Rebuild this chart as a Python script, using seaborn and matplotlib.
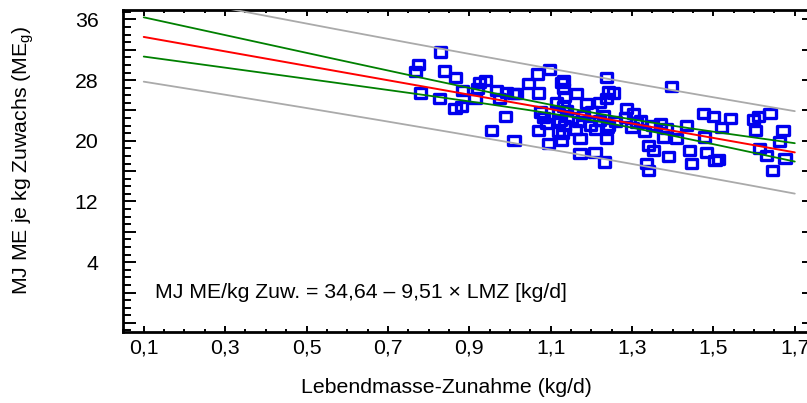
import numpy as np
import pandas as pd
import seaborn as sns
import matplotlib
matplotlib.use("Agg")
import matplotlib.pyplot as plt
from matplotlib.markers import MarkerStyle
from matplotlib.path import Path
from matplotlib.ticker import FixedLocator, MultipleLocator, FuncFormatter

# Daily live-weight gain (kg/d) per animal
lmz = [
    0.767, 0.776, 0.781, 0.826, 0.830, 0.839, 0.867, 0.865, 0.881, 0.884,
    0.914, 0.920, 0.926, 0.939, 0.955, 0.967, 0.975, 0.988, 0.992, 1.008,
    1.010, 1.016,
    1.045, 1.067, 1.097, 1.070, 1.070, 1.082, 1.094, 1.075, 1.090,
    1.127, 1.131, 1.131, 1.135, 1.115, 1.123, 1.119, 1.127, 1.131, 1.120,
    1.135, 1.130, 1.140,
    1.164, 1.168, 1.172, 1.172, 1.188, 1.197, 1.209, 1.238, 1.233, 1.238,
    1.242, 1.254, 1.180, 1.200, 1.210, 1.220, 1.230, 1.221, 1.238, 1.240,
    1.260, 1.150, 1.160,
    1.283, 1.287, 1.303, 1.320, 1.242, 1.300, 1.310, 1.340, 1.352, 1.389,
    1.336, 1.340, 1.397, 1.330, 1.350, 1.370, 1.377, 1.410, 1.385,
    1.434, 1.442, 1.446,
    1.475, 1.500, 1.520, 1.541, 1.479, 1.483, 1.512, 1.504,
    1.598, 1.610, 1.639, 1.604, 1.671, 1.614, 1.631, 1.663, 1.676, 1.645,
]
# Metabolisable energy per kg of gain (MJ ME/kg)
me_g = [
    29.1, 30.1, 26.3, 25.6, 31.7, 29.2, 28.4, 24.2, 24.5, 26.6,
    25.6, 26.9, 27.7, 28.0, 21.3, 26.6, 25.6, 23.2, 26.4, 26.2,
    20.0, 26.2,
    27.6, 28.8, 29.4, 26.3, 21.4, 23.1, 19.7, 23.8, 22.3,
    27.7, 28.0, 26.9, 25.8, 25.1, 22.7, 21.2, 20.0, 24.5, 23.6,
    22.0, 21.0, 24.0,
    26.2, 22.5, 20.3, 18.3, 24.9, 22.0, 18.5, 20.3, 17.2, 28.3,
    26.5, 26.3, 23.3, 23.8, 21.5, 22.7, 23.3, 25.1, 25.6, 21.8,
    22.5, 23.0, 21.5,
    23.1, 24.2, 23.6, 22.7, 22.0, 21.8, 22.4, 19.4, 18.7, 17.9,
    17.0, 16.1, 27.2, 21.2, 22.0, 22.3, 20.5, 20.3, 21.6,
    22.0, 18.7, 17.0,
    23.6, 23.2, 21.8, 22.9, 20.5, 18.5, 17.5, 17.4,
    22.8, 23.2, 23.6, 21.4, 21.4, 19.0, 18.1, 19.9, 17.7, 16.1,
]

# Fitted regression (as printed in the equation)
intercept = 34.64
slope = -9.51
t_crit = 1.98

x_ticks = [0.1, 0.3, 0.5, 0.7, 0.9, 1.1, 1.3, 1.5, 1.7]
y_ticks = [4, 12, 20, 28, 36]

pts = pd.DataFrame({"lmz": lmz, "me": me_g})

# confidence and prediction bands around the fitted line
x = pts["lmz"].to_numpy()
y = pts["me"].to_numpy()
n = len(x)
xbar = x.mean()
sxx = ((x - xbar) ** 2).sum()
resid = y - (intercept + slope * x)
s = np.sqrt((resid ** 2).sum() / (n - 2))
grid = np.linspace(0.1, 1.7, 161)
fit = intercept + slope * grid
ci = t_crit * s * np.sqrt(1 / n + (grid - xbar) ** 2 / sxx)
pi = t_crit * s * np.sqrt(1 + 1 / n + (grid - xbar) ** 2 / sxx)
bands = pd.DataFrame({"lmz": grid, "fit": fit,
                      "ci_lo": fit - ci, "ci_hi": fit + ci,
                      "pi_lo": fit - pi, "pi_hi": fit + pi})

sns.set_theme(style="white")
plt.rcParams["font.family"] = ["Liberation Sans", "DejaVu Sans"]
plt.rcParams["mathtext.default"] = "regular"
for key in ["text.color", "axes.labelcolor", "xtick.color", "ytick.color",
            "xtick.labelcolor", "ytick.labelcolor"]:
    plt.rcParams[key] = "black"

FS = 15.3

fig = plt.figure(figsize=(8.07, 4.03), dpi=100)
ax = fig.add_axes([123.4 / 807, 71 / 403, 1 - 123.4 / 807, 321.7 / 403])

rect = MarkerStyle(Path([(-1, -0.82), (1, -0.82), (1, 0.82), (-1, 0.82), (-1, -0.82)],
                        [Path.MOVETO, Path.LINETO, Path.LINETO, Path.LINETO, Path.CLOSEPOLY]))
sns.scatterplot(data=pts, x="lmz", y="me", ax=ax, marker=rect, s=64,
                color="#0000ee", facecolor="none", edgecolor="#0000ee",
                linewidth=2.4, zorder=3)

for col, c, lw in [("pi_lo", "#aaaaaa", 1.3), ("pi_hi", "#aaaaaa", 1.3),
                   ("ci_lo", "#008000", 1.3), ("ci_hi", "#008000", 1.3),
                   ("fit", "#ff0000", 1.4)]:
    sns.lineplot(data=bands, x="lmz", y=col, ax=ax, color=c, lw=lw, zorder=4)

ax.set_xlim(0.05, 1.73)
ax.set_ylim(-5.2, 37.2)

ax.xaxis.set_major_locator(FixedLocator(x_ticks))
ax.xaxis.set_minor_locator(MultipleLocator(0.05))
ax.xaxis.set_major_formatter(FuncFormatter(lambda v, _: f"{v:.1f}".replace(".", ",")))
ax.yaxis.set_major_locator(MultipleLocator(4))
ax.yaxis.set_minor_locator(MultipleLocator(1))
ax.yaxis.set_major_formatter(FuncFormatter(
    lambda v, _: f"{int(round(v))}" if int(round(v)) in y_ticks else ""))

ax.tick_params(axis="x", which="both", direction="in", top=True, bottom=True,
               width=1.4, color="black", labelsize=FS, pad=5)
ax.tick_params(axis="x", which="major", length=4.2)
ax.tick_params(axis="x", which="minor", length=2.2)
ax.tick_params(axis="y", which="both", direction="in", left=True, right=False,
               width=1.4, color="black", labelsize=FS, pad=18)
ax.tick_params(axis="y", which="major", length=9)
ax.tick_params(axis="y", which="minor", length=5.5)

sec = ax.secondary_yaxis("right")
sec.yaxis.set_major_locator(MultipleLocator(4))
sec.tick_params(direction="in", length=3.6, width=1.4, color="black", labelright=False)
for sp in sec.spines.values():
    sp.set_visible(False)

for side in ["left", "bottom", "top"]:
    ax.spines[side].set_linewidth(2)
    ax.spines[side].set_color("black")
ax.spines["right"].set_visible(False)

ax.set_xlabel("Lebendmasse-Zunahme (kg/d)", fontsize=FS, color="black")
ax.set_ylabel("MJ ME je kg Zuwachs (ME$_g$)", fontsize=FS, color="black")
ax.xaxis.set_label_coords(0.472, -0.143)
ax.yaxis.set_label_coords(-0.128, 0.534)

ax.text(0.128, 0.0, "MJ ME/kg Zuw. = 34,64 \u2013 9,51 \u00d7 LMZ [kg/d]",
        fontsize=FS, va="center", ha="left", color="black")

fig.savefig("out.png", dpi=100)
